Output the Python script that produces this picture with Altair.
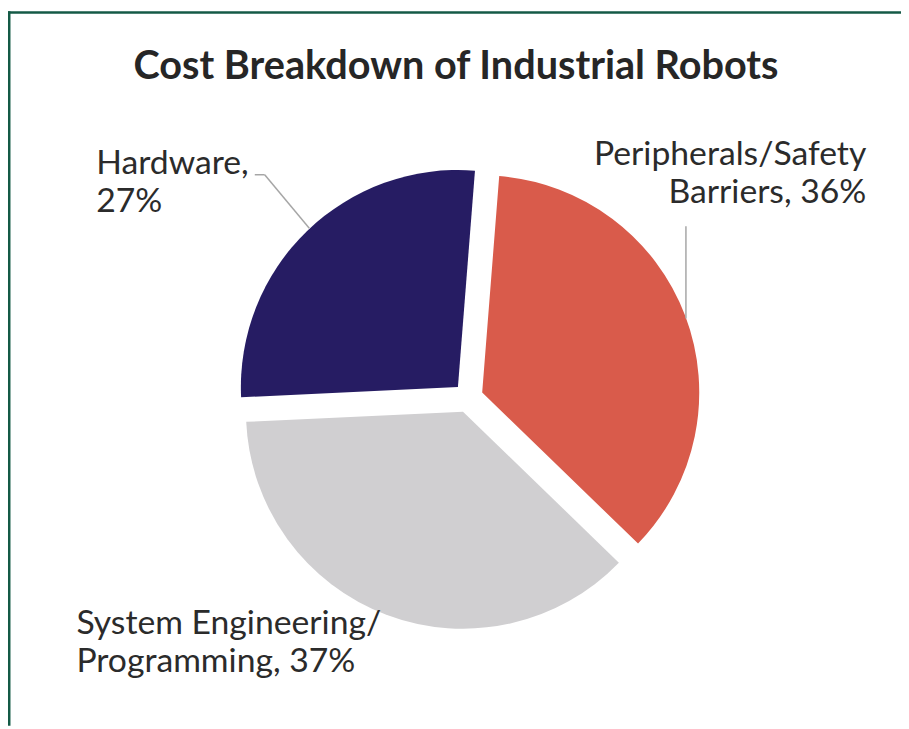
import math
import altair as alt
import pandas as pd

# ---- data ----
categories = ["Peripherals/Safety Barriers", "System Engineering/Programming", "Hardware"]
values = [36, 37, 27]
label_text = ["Peripherals/Safety\nBarriers, 36%", "System Engineering/\nProgramming, 37%", "Hardware,\n27%"]
colors = ["#D95B4B", "#D0CFD1", "#261C63"]
title_text = "Cost Breakdown of Industrial Robots"

# ---- layout ----
W, H = 901, 721
CX, CY, R, EXPLODE = 464.4, 390.0, 219, 15
ROT = math.radians(4.5)
FONT = "Lato"
TEXT_COLOR = "#2B2B2B"

pie_df = pd.DataFrame({"category": categories, "value": values, "order": list(range(len(values)))})

pie = (
    alt.Chart(pie_df)
    .transform_joinaggregate(total="sum(value)")
    .transform_window(cum="sum(value)", sort=[alt.SortField("order")], frame=[None, 0])
    .transform_calculate(
        f0="(datum.cum - datum.value) / datum.total",
        f1="datum.cum / datum.total",
        mid=f"(datum.cum - datum.value / 2) / datum.total * 2 * PI + {ROT}",
    )
    .transform_calculate(dx="sin(datum.mid)", dy="cos(datum.mid)")
    .mark_arc(outerRadius=R)
    .encode(
        theta=alt.Theta("f0:Q", scale=alt.Scale(domain=[0, 1], range=[ROT, ROT + 2 * math.pi])),
        theta2="f1:Q",
        x=alt.X("dx:Q", scale=alt.Scale(domain=[-1, 1], range=[CX - EXPLODE, CX + EXPLODE], nice=False, zero=False), axis=None),
        y=alt.Y("dy:Q", scale=alt.Scale(domain=[-1, 1], range=[CY + EXPLODE, CY - EXPLODE], nice=False, zero=False), axis=None),
        color=alt.Color("category:N", scale=alt.Scale(domain=categories, range=colors), legend=None),
    )
)

lab_df = pd.DataFrame({"category": categories, "label": label_text})

# label anchors (layout): category -> (x, y, align)
anchors = {
    categories[0]: (866, 155, "right"),
    categories[1]: (69, 628, "left"),
    categories[2]: (89, 164, "left"),
}

label_layers = []
for cat, (lx, ly, al) in anchors.items():
    label_layers.append(
        alt.Chart(lab_df)
        .transform_filter(alt.datum.category == cat)
        .mark_text(align=al, baseline="alphabetic", font=FONT, fontSize=34, lineBreak="\n",
                   lineHeight=39, color=TEXT_COLOR)
        .encode(x=alt.value(lx), y=alt.value(ly), text="label:N")
    )

dummy = pd.DataFrame({"a": [0]})

# leader lines
leader_hw1 = alt.Chart(dummy).mark_rule(color="#A6A6A6", strokeWidth=1.5).encode(
    x=alt.value(249), x2=alt.value(259), y=alt.value(165), y2=alt.value(165))
leader_hw2 = alt.Chart(dummy).mark_rule(color="#A6A6A6", strokeWidth=1.5).encode(
    x=alt.value(259), x2=alt.value(304), y=alt.value(165), y2=alt.value(219))
leader_pe = alt.Chart(dummy).mark_rule(color="#A6A6A6", strokeWidth=1.5).encode(
    x=alt.value(684), x2=alt.value(684), y=alt.value(217), y2=alt.value(310))

title = alt.Chart(dummy).mark_text(font=FONT, fontSize=40, fontWeight="bold", color="#262626",
                                   align="center", baseline="alphabetic").encode(
    x=alt.value(452), y=alt.value(68), text=alt.value(title_text))

frame_top = alt.Chart(dummy).mark_rule(color="#145A46", strokeWidth=2.5).encode(
    x=alt.value(0), x2=alt.value(W), y=alt.value(1.25), y2=alt.value(1.25))
frame_left = alt.Chart(dummy).mark_rule(color="#145A46", strokeWidth=2.5).encode(
    x=alt.value(1.25), x2=alt.value(1.25), y=alt.value(0), y2=alt.value(H))

chart = (
    alt.layer(pie, *label_layers, leader_hw1, leader_hw2, leader_pe, title, frame_top, frame_left)
    .properties(width=W, height=H, autosize=alt.AutoSizeParams(type="none"), padding=0, background="white")
    .configure_view(stroke=None)
)

chart.save("out.html", embed_options={"renderer": "svg", "actions": False})
